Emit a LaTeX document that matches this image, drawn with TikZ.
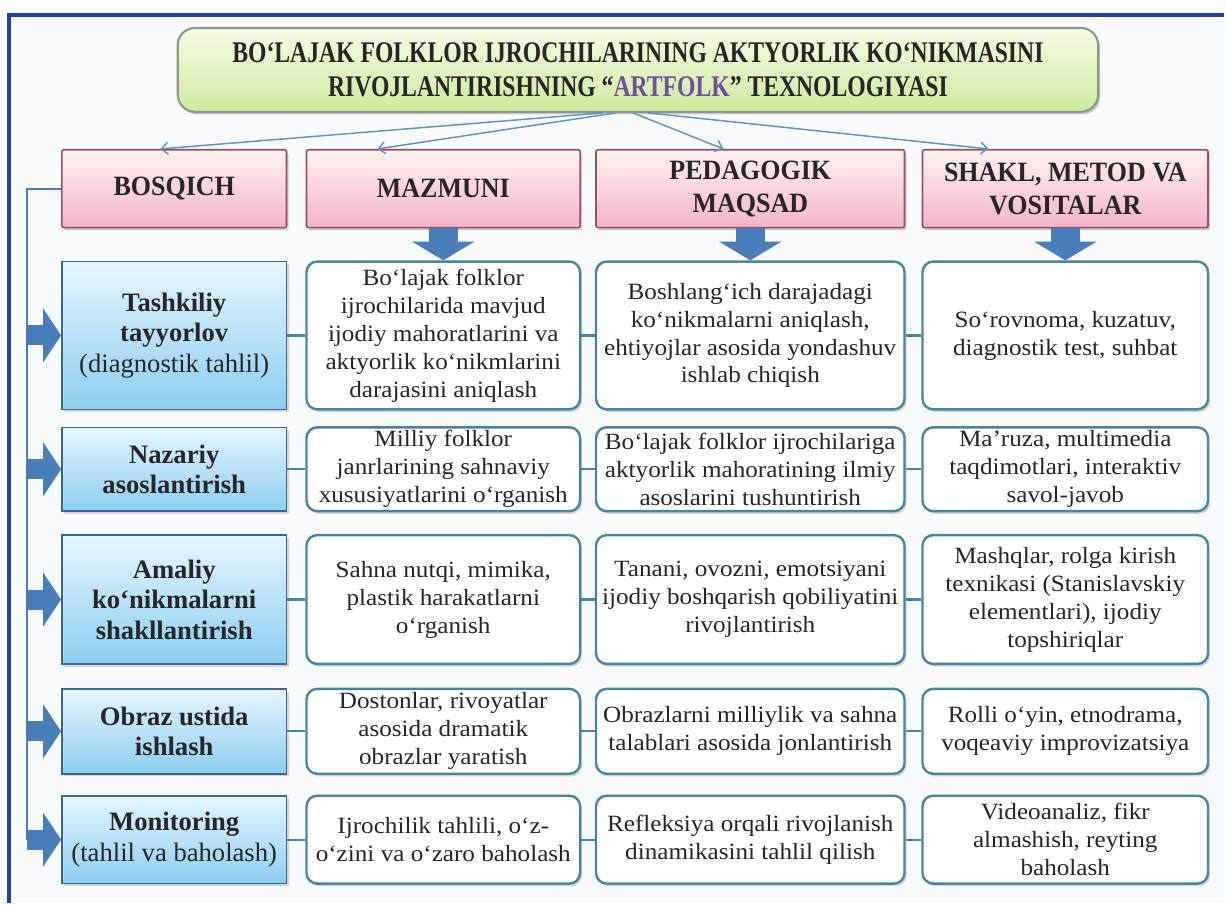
\documentclass[tikz,border=0pt]{standalone}
\usepackage{fontspec}
\setmainfont{Liberation Serif}
\newfontfamily\bodyfont[FakeStretch=1.08]{Liberation Serif}
\newfontfamily\headfont[FakeStretch=0.93]{Liberation Serif}
\newfontfamily\titlefont[FakeStretch=0.79]{Liberation Serif}
\usetikzlibrary{arrows.meta,shadows,calc}

\definecolor{pagebg}{HTML}{F7FBFE}
\definecolor{frameblue}{HTML}{2040A8}
\definecolor{titletop}{HTML}{F5FBE6}
\definecolor{titlebot}{HTML}{CFEA9E}
\definecolor{titledraw}{HTML}{8E9882}
\definecolor{headtop}{HTML}{FDF3EE}
\definecolor{headbot}{HTML}{F4B4CC}
\definecolor{headdraw}{HTML}{9A4E62}
\definecolor{stagetop}{HTML}{E6F5FC}
\definecolor{stagebot}{HTML}{8CCFF0}
\definecolor{stagedraw}{HTML}{3A6890}
\definecolor{infodraw}{HTML}{4A849D}
\definecolor{arrowblue}{HTML}{4A7EBB}
\definecolor{artpurple}{HTML}{6E4FA0}

\begin{document}
\begin{tikzpicture}[x=0.75pt, y=-0.75pt, line width=1pt,
    titlebox/.style={draw=titledraw, line width=1.6pt, rounded corners=13pt,
      top color=titletop, bottom color=titlebot, align=center, text=black!85,
      drop shadow={shadow xshift=1.5pt, shadow yshift=-2pt, opacity=0.4},
      font=\titlefont\bfseries\fontsize{22.5}{25.5}\selectfont},
    colhead/.style={draw=headdraw, line width=1.2pt, rounded corners=1.5pt,
      top color=headtop, bottom color=headbot, align=center, text=black!85,
      minimum height=58.5pt,
      drop shadow={shadow xshift=1.5pt, shadow yshift=-2pt, opacity=0.35},
      font=\headfont\bfseries\fontsize{21}{25}\selectfont},
    stagebox/.style={draw=stagedraw, line width=1.2pt, minimum width=168.75pt,
      top color=stagetop, bottom color=stagebot, align=center, text=black!85,
      drop shadow={shadow xshift=1.5pt, shadow yshift=-2pt, opacity=0.3},
      font=\fontsize{20}{23}\selectfont},
    infobox/.style={draw=infodraw, line width=1.8pt, rounded corners=8pt,
      fill=white, align=center, text=black!85, inner sep=2pt,
      drop shadow={shadow xshift=1.5pt, shadow yshift=-2pt, opacity=0.3},
      font=\bodyfont\fontsize{17.5}{21}\selectfont},
    rowlink/.style={draw=infodraw, line width=1.6pt},
    toparrow/.style={draw=arrowblue!85, line width=1.1pt, -{Straight Barb[length=5pt, width=9pt]}},
    downarrow/.style={draw=arrowblue, line width=22pt, -{Triangle[length=14pt, width=46pt]}},
    sidearrow/.style={draw=arrowblue, line width=15pt, -{Triangle[length=13.5pt, width=40pt]}},
    spine/.style={draw=arrowblue, line width=1.6pt}]

    % Page and frame
    \fill[white] (0,0) rectangle (1226,904);
    \fill[pagebg] (9,15) rectangle (1226,904);
    \draw[frameblue, line width=3pt] (9,904) -- (9,15) -- (1226,15);

    % Title
    \node[titlebox, minimum width=691.5pt, minimum height=63pt] (top) at (639,70)
      {BO‘LAJAK FOLKLOR IJROCHILARINING AKTYORLIK KO‘NIKMASINI\\
       RIVOJLANTIRISHNING “\textcolor{artpurple}{ARTFOLK}” TEXNOLOGIYASI};

    % Column heads
    \node[colhead, minimum width=168.75pt] (hA) at (174.5,189) {BOSQICH};
    \node[colhead, minimum width=205.5pt] (hB) at (444,189) {MAZMUNI};
    \node[colhead, minimum width=231.75pt] (hC) at (751.5,189) {PEDAGOGIK\\MAQSAD};
    \node[colhead, minimum width=214.5pt] (hD) at (1067,189) {SHAKL, METOD VA\\VOSITALAR};

    \draw[toparrow] ($(top.south)+(-35,0)$) -- ($(hA.north)+(-14,0)$);
    \draw[toparrow] ($(top.south)+(-22,0)$) -- ($(hB.north)+(-66,0)$);
    \draw[toparrow] ($(top.south)+(-5,0)$) -- ($(hC.north)+(-27,0)$);
    \draw[toparrow] ($(top.south)+(10,0)$) -- ($(hD.north)+(-77,0)$);

    % Stages
    \node[stagebox, minimum height=111pt] (s1) at (174.5,336)
      {\textbf{Tashkiliy}\\\textbf{tayyorlov}\\(diagnostik tahlil)};
    \node[stagebox, minimum height=63pt] (s2) at (174.5,470)
      {\textbf{Nazariy}\\\textbf{asoslantirish}};
    \node[stagebox, minimum height=96.75pt] (s3) at (174.5,600.5)
      {\textbf{Amaliy}\\\textbf{ko‘nikmalarni}\\\textbf{shakllantirish}};
    \node[stagebox, minimum height=63.75pt] (s4) at (174.5,732.5)
      {\textbf{Obraz ustida}\\\textbf{ishlash}};
    \node[stagebox, minimum height=66pt] (s5) at (174.5,841)
      {\textbf{Monitoring}\\(tahlil va baholash)};

    % Content
    \node[infobox, minimum width=205.5pt, minimum height=111pt] (m1) at (444,336)
      {Bo‘lajak folklor\\ijrochilarida mavjud\\ijodiy mahoratlarini va\\aktyorlik ko‘nikmlarini\\darajasini aniqlash};
    \node[infobox, minimum width=205.5pt, minimum height=63pt] (m2) at (444,470)
      {Milliy folklor\\janrlarining sahnaviy\\xususiyatlarini o‘rganish};
    \node[infobox, minimum width=205.5pt, minimum height=96.75pt] (m3) at (444,600.5)
      {Sahna nutqi, mimika,\\plastik harakatlarni\\o‘rganish};
    \node[infobox, minimum width=205.5pt, minimum height=63.75pt] (m4) at (444,732.5)
      {Dostonlar, rivoyatlar\\asosida dramatik\\obrazlar yaratish};
    \node[infobox, minimum width=205.5pt, minimum height=66pt] (m5) at (444,841)
      {Ijrochilik tahlili, o‘z-\\o‘zini va o‘zaro baholash};

    % Pedagogical aims
    \node[infobox, minimum width=231.75pt, minimum height=111pt] (p1) at (751.5,336)
      {Boshlang‘ich darajadagi\\ko‘nikmalarni aniqlash,\\ehtiyojlar asosida yondashuv\\ishlab chiqish};
    \node[infobox, minimum width=231.75pt, minimum height=63pt] (p2) at (751.5,470)
      {Bo‘lajak folklor ijrochilariga\\aktyorlik mahoratining ilmiy\\asoslarini tushuntirish};
    \node[infobox, minimum width=231.75pt, minimum height=96.75pt] (p3) at (751.5,600.5)
      {Tanani, ovozni, emotsiyani\\ijodiy boshqarish qobiliyatini\\rivojlantirish};
    \node[infobox, minimum width=231.75pt, minimum height=63.75pt] (p4) at (751.5,732.5)
      {Obrazlarni milliylik va sahna\\talablari asosida jonlantirish};
    \node[infobox, minimum width=231.75pt, minimum height=66pt] (p5) at (751.5,841)
      {Refleksiya orqali rivojlanish\\dinamikasini tahlil qilish};

    % Forms, methods, tools
    \node[infobox, minimum width=214.5pt, minimum height=111pt] (f1) at (1067,336)
      {So‘rovnoma, kuzatuv,\\diagnostik test, suhbat};
    \node[infobox, minimum width=214.5pt, minimum height=63pt] (f2) at (1067,470)
      {Ma’ruza, multimedia\\taqdimotlari, interaktiv\\savol-javob};
    \node[infobox, minimum width=214.5pt, minimum height=96.75pt] (f3) at (1067,600.5)
      {Mashqlar, rolga kirish\\texnikasi (Stanislavskiy\\elementlari), ijodiy\\topshiriqlar};
    \node[infobox, minimum width=214.5pt, minimum height=63.75pt] (f4) at (1067,732.5)
      {Rolli o‘yin, etnodrama,\\voqeaviy improvizatsiya};
    \node[infobox, minimum width=214.5pt, minimum height=66pt] (f5) at (1067,841)
      {Videoanaliz, fikr\\almashish, reyting\\baholash};

    % Links
    \foreach \r in {1,...,5} {
      \draw[rowlink] (s\r) -- (m\r);
      \draw[rowlink] (m\r) -- (p\r);
      \draw[rowlink] (p\r) -- (f\r);
    }
    \draw[downarrow] (hB.south) -- (m1.north);
    \draw[downarrow] (hC.south) -- (p1.north);
    \draw[downarrow] (hD.south) -- (f1.north);

    % Spine with side arrows
    \coordinate (spinebot) at (27,841);
    \draw[spine] (hA.west) -| (spinebot);
    \foreach \r in {1,...,5}
      \draw[sidearrow] (spinebot |- s\r.west) -- (s\r.west);
  \end{tikzpicture}
\end{document}
